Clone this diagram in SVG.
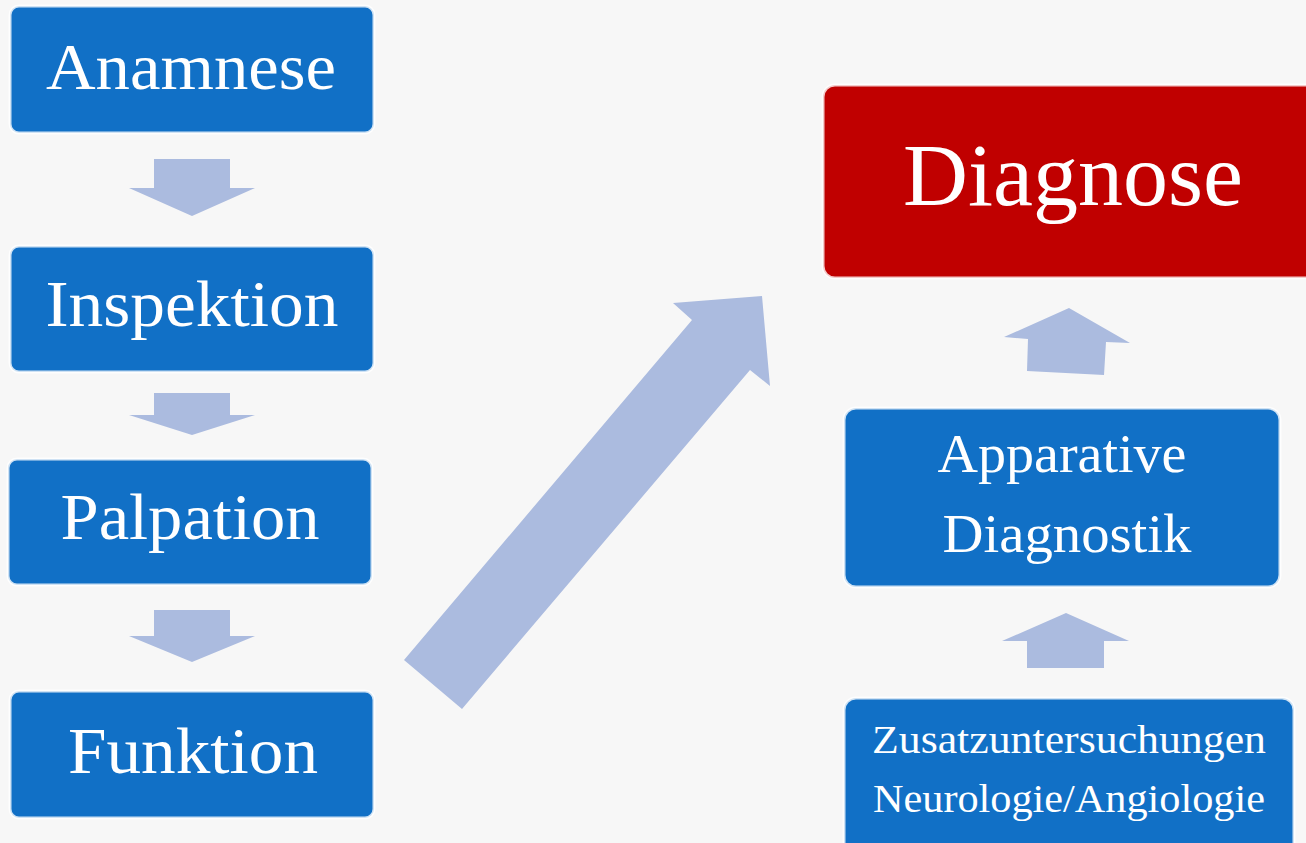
<svg xmlns="http://www.w3.org/2000/svg" width="1306" height="843" viewBox="0 0 1306 843">
<style>
.box{fill:#1170c6;stroke:#ffffff;stroke-width:3;stroke-opacity:0.8}
.red{fill:#c00000;stroke:#ffffff;stroke-width:3;stroke-opacity:0.8}
.arr{fill:#abbbdf}
text{font-family:"Liberation Serif","DejaVu Serif",serif;fill:#ffffff;text-anchor:middle}
.big{font-size:66px}
</style>
<rect x="0" y="0" width="1306" height="843" fill="#f7f7f7"/>
<g id="connectors">
<polygon class="arr" points="154,159 230,159 230,188 255,188 192,216 129,188 154,188"/>
<polygon class="arr" points="154,393 230,393 230,415 255,415 192,435 129,415 154,415"/>
<polygon class="arr" points="154,610 230,610 230,636 255,636 192,662 129,636 154,636"/>
<polygon class="arr" points="404,660 692,320 673,303 762,296 770,386 750,370 462,709"/>
<polygon class="arr" points="1027,371 1028,339 1004,337 1069,308 1130,343 1106,342 1104,375"/>
<polygon class="arr" points="1027,668 1027,641 1002,641 1066,613 1129,641 1104,641 1104,668"/>
</g>
<g id="anamnese">
<rect class="box" x="10" y="6" width="364" height="127" rx="9"/>
<text class="big" x="191" y="89" textLength="290" lengthAdjust="spacingAndGlyphs">Anamnese</text>
</g>
<g id="inspektion">
<rect class="box" x="10" y="246" width="364" height="126" rx="9"/>
<text class="big" x="192" y="326" textLength="293" lengthAdjust="spacingAndGlyphs">Inspektion</text>
</g>
<g id="palpation">
<rect class="box" x="8" y="459" width="364" height="126" rx="9"/>
<text class="big" x="190" y="539" textLength="259" lengthAdjust="spacingAndGlyphs">Palpation</text>
</g>
<g id="funktion">
<rect class="box" x="10" y="691" width="364" height="127" rx="9"/>
<text class="big" x="193" y="773" textLength="250" lengthAdjust="spacingAndGlyphs">Funktion</text>
</g>
<g id="diagnose">
<rect class="red" x="823" y="85" width="500" height="193" rx="12"/>
<text x="1073" y="205" font-size="88" textLength="340" lengthAdjust="spacingAndGlyphs">Diagnose</text>
</g>
<g id="apparative">
<rect class="box" x="844" y="408" width="436" height="179" rx="12"/>
<text x="1062" y="472" font-size="54" textLength="249" lengthAdjust="spacingAndGlyphs">Apparative</text>
<text x="1067" y="552" font-size="54" textLength="249" lengthAdjust="spacingAndGlyphs">Diagnostik</text>
</g>
<g id="zusatz">
<rect class="box" x="844" y="698" width="450" height="160" rx="12"/>
<text x="1069" y="753" font-size="40" textLength="394" lengthAdjust="spacingAndGlyphs">Zusatzuntersuchungen</text>
<text x="1069" y="812" font-size="40" textLength="392" lengthAdjust="spacingAndGlyphs">Neurologie/Angiologie</text>
</g>
</svg>
